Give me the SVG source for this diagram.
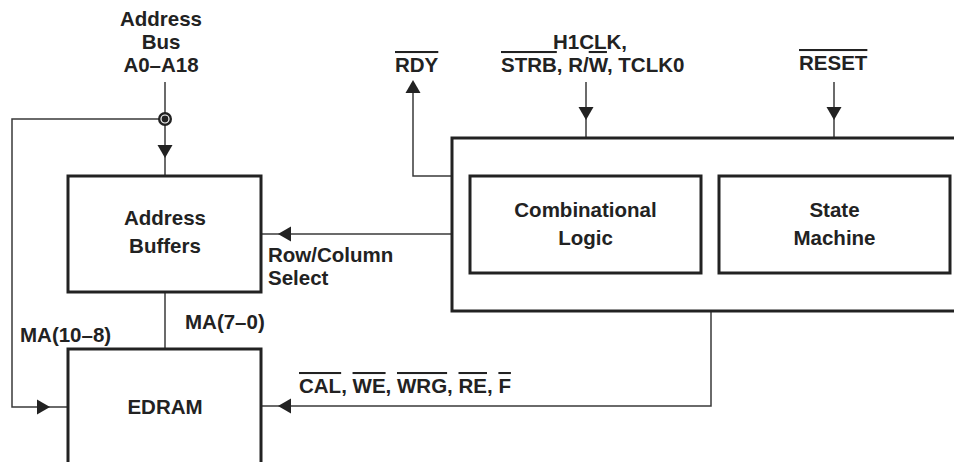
<svg xmlns="http://www.w3.org/2000/svg" xmlns:xlink="http://www.w3.org/1999/xlink" width="954" height="462" viewBox="0 0 954 462">
<style>
text{font-family:"Liberation Sans",Arial,sans-serif;font-weight:bold;font-size:20.5px;fill:#222}
.c{text-anchor:middle}
.box{fill:#fff;stroke:#222;stroke-width:3}
.ln{fill:none;stroke:#3a3a3a;stroke-width:1.5}
.ah{fill:#222}
.ov{text-decoration:overline}
</style>
<defs>
<polygon id="ah" points="0,0 -13,-7.5 -13,7.5"/>
</defs>
<rect width="954" height="462" fill="#fff"/>
<g id="connectors">
<path class="ln" d="M165,82 V176"/>
<path class="ln" d="M165,119 H12 V407 H68"/>
<path class="ln" d="M413,82 V176 H452"/>
<path class="ln" d="M586,82 V138"/>
<path class="ln" d="M834,82 V138"/>
<path class="ln" d="M452,234 H261"/>
<path class="ln" d="M165,292 V349"/>
<path class="ln" d="M711,311 V406 H261"/>
<use xlink:href="#ah" class="ah" transform="translate(165,158) rotate(90)"/>
<use xlink:href="#ah" class="ah" transform="translate(413,80) rotate(-90)"/>
<use xlink:href="#ah" class="ah" transform="translate(586,120) rotate(90)"/>
<use xlink:href="#ah" class="ah" transform="translate(834,120) rotate(90)"/>
<use xlink:href="#ah" class="ah" transform="translate(278,234) rotate(180)"/>
<use xlink:href="#ah" class="ah" transform="translate(50,407)"/>
<use xlink:href="#ah" class="ah" transform="translate(278,406) rotate(180)"/>
<circle cx="165" cy="119" r="7" fill="#222"/>
<circle cx="165" cy="119" r="4" fill="none" stroke="#fff" stroke-width="1.2"/>
</g>
<g id="labels">
<text class="c" x="161" y="26">Address</text>
<text class="c" x="161" y="49">Bus</text>
<text class="c" x="161" y="72">A0–A18</text>
<text x="395" y="72"><tspan class="ov">RDY</tspan></text>
<text x="553" y="49">H1CLK,</text>
<text x="501" y="72"><tspan class="ov">STRB</tspan>, R/<tspan class="ov">W</tspan>, TCLK0</text>
<text x="799" y="70"><tspan class="ov">RESET</tspan></text>
<text x="268" y="262">Row/Column</text>
<text x="268" y="285">Select</text>
<text x="185" y="329">MA(7–0)</text>
<text x="20" y="342">MA(10–8)</text>
<text x="299" y="393"><tspan class="ov">CAL</tspan>, <tspan class="ov">WE</tspan>, <tspan class="ov">WRG</tspan>, <tspan class="ov">RE</tspan>, <tspan class="ov">F</tspan></text>
</g>
<g id="address-buffers">
<rect class="box" x="68" y="176" width="193" height="116"/>
<text class="c" x="165" y="225">Address</text>
<text class="c" x="165" y="253">Buffers</text>
</g>
<g id="controller">
<rect class="box" x="452" y="138" width="520" height="173"/>
</g>
<g id="combinational-logic">
<rect class="box" x="470" y="176" width="231" height="97"/>
<text class="c" x="585.5" y="217">Combinational</text>
<text class="c" x="585.5" y="245">Logic</text>
</g>
<g id="state-machine">
<rect class="box" x="719" y="176" width="231" height="97"/>
<text class="c" x="834.5" y="217">State</text>
<text class="c" x="834.5" y="245">Machine</text>
</g>
<g id="edram">
<rect class="box" x="68" y="349" width="193" height="140"/>
<text class="c" x="165" y="414">EDRAM</text>
</g>
</svg>
